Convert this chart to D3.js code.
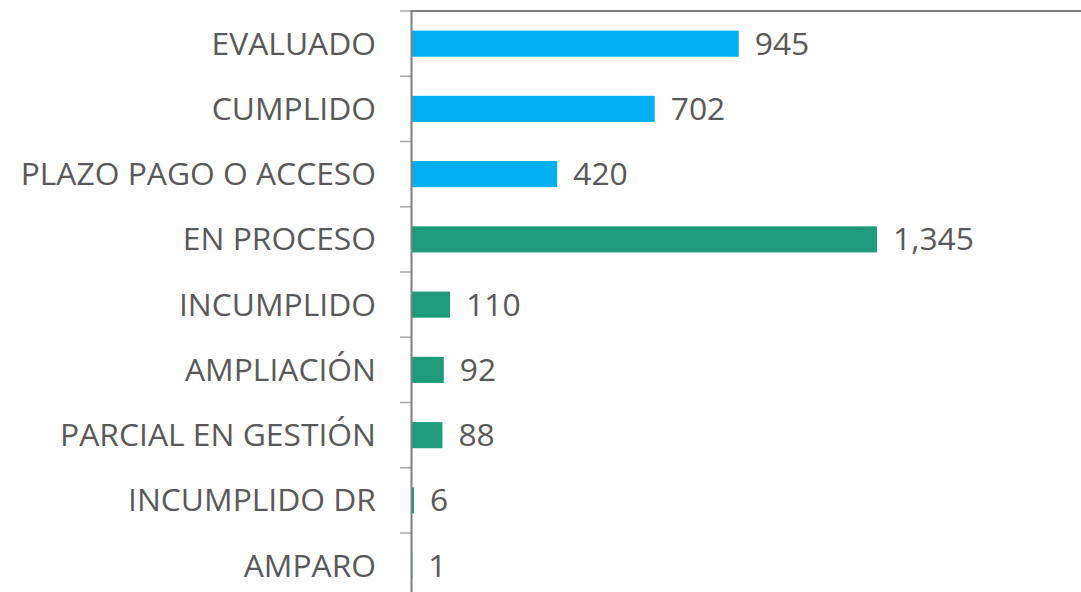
<!DOCTYPE html>
<html><head><meta charset="utf-8">
<script src="https://cdn.jsdelivr.net/npm/d3@7"></script>
<style>body{margin:0;background:#fff;}svg{display:block;}</style>
</head><body>
<svg id="c" width="1081" height="592"></svg>
<script>
const categories = ["EVALUADO","CUMPLIDO","PLAZO PAGO O ACCESO","EN PROCESO","INCUMPLIDO","AMPLIACIÓN","PARCIAL EN GESTIÓN","INCUMPLIDO DR","AMPARO"];
const values = [945,702,420,1345,110,92,88,6,1];
const groups = ["blue","blue","blue","green","green","green","green","green","green"];
const colors = {blue:"#00B0F0", green:"#1E9B78"};

(function(){
const svg = d3.select("#c");
const x0 = 412, topY = 11, step = 65.25;
const x = d3.scaleLinear().domain([0,1935]).range([x0,1081]);
const y = d3.scaleBand().domain(categories).range([topY, topY+step*categories.length]).paddingInner(0.6).paddingOuter(0.3);

svg.selectAll("rect.bar").data(categories).enter().append("rect")
  .attr("x", x(0)).attr("y", d=>y(d))
  .attr("width", (d,i)=>x(values[i])-x(0))
  .attr("height", y.bandwidth())
  .attr("fill", (d,i)=>colors[groups[i]]);

svg.append("line").attr("x1",x0-1).attr("x2",1081).attr("y1",topY).attr("y2",topY)
  .attr("stroke","#7f7f7f").attr("stroke-width",2);

const tickYs = d3.range(categories.length+1).map(i=>topY+i*step);
svg.selectAll("line.tick").data(tickYs).enter().append("line")
  .attr("x1",400).attr("x2",x0-1).attr("y1",d=>d).attr("y2",d=>d)
  .attr("stroke","#a6a6a6").attr("stroke-width",1.5);

svg.append("line").attr("x1",x0-0.5).attr("x2",x0-0.5).attr("y1",topY-1).attr("y2",592)
  .attr("stroke","#7f7f7f").attr("stroke-width",2);

const font = "'Open Sans', sans-serif";
svg.selectAll("text.cat").data(categories).enter().append("text")
  .attr("x", 376).attr("y", d=>y(d)+y.bandwidth()/2+11)
  .attr("text-anchor","end").attr("font-family",font).attr("font-size",31.8)
  .attr("fill","#595959").text(d=>d);

const fmt = d3.format(",");
svg.selectAll("text.val").data(categories).enter().append("text")
  .attr("x", (d,i)=>x(values[i])+16).attr("y", d=>y(d)+y.bandwidth()/2+11)
  .attr("font-family",font).attr("font-size",31.8)
  .attr("fill","#595959").text((d,i)=>fmt(values[i]));
})();
</script>
</body></html>
